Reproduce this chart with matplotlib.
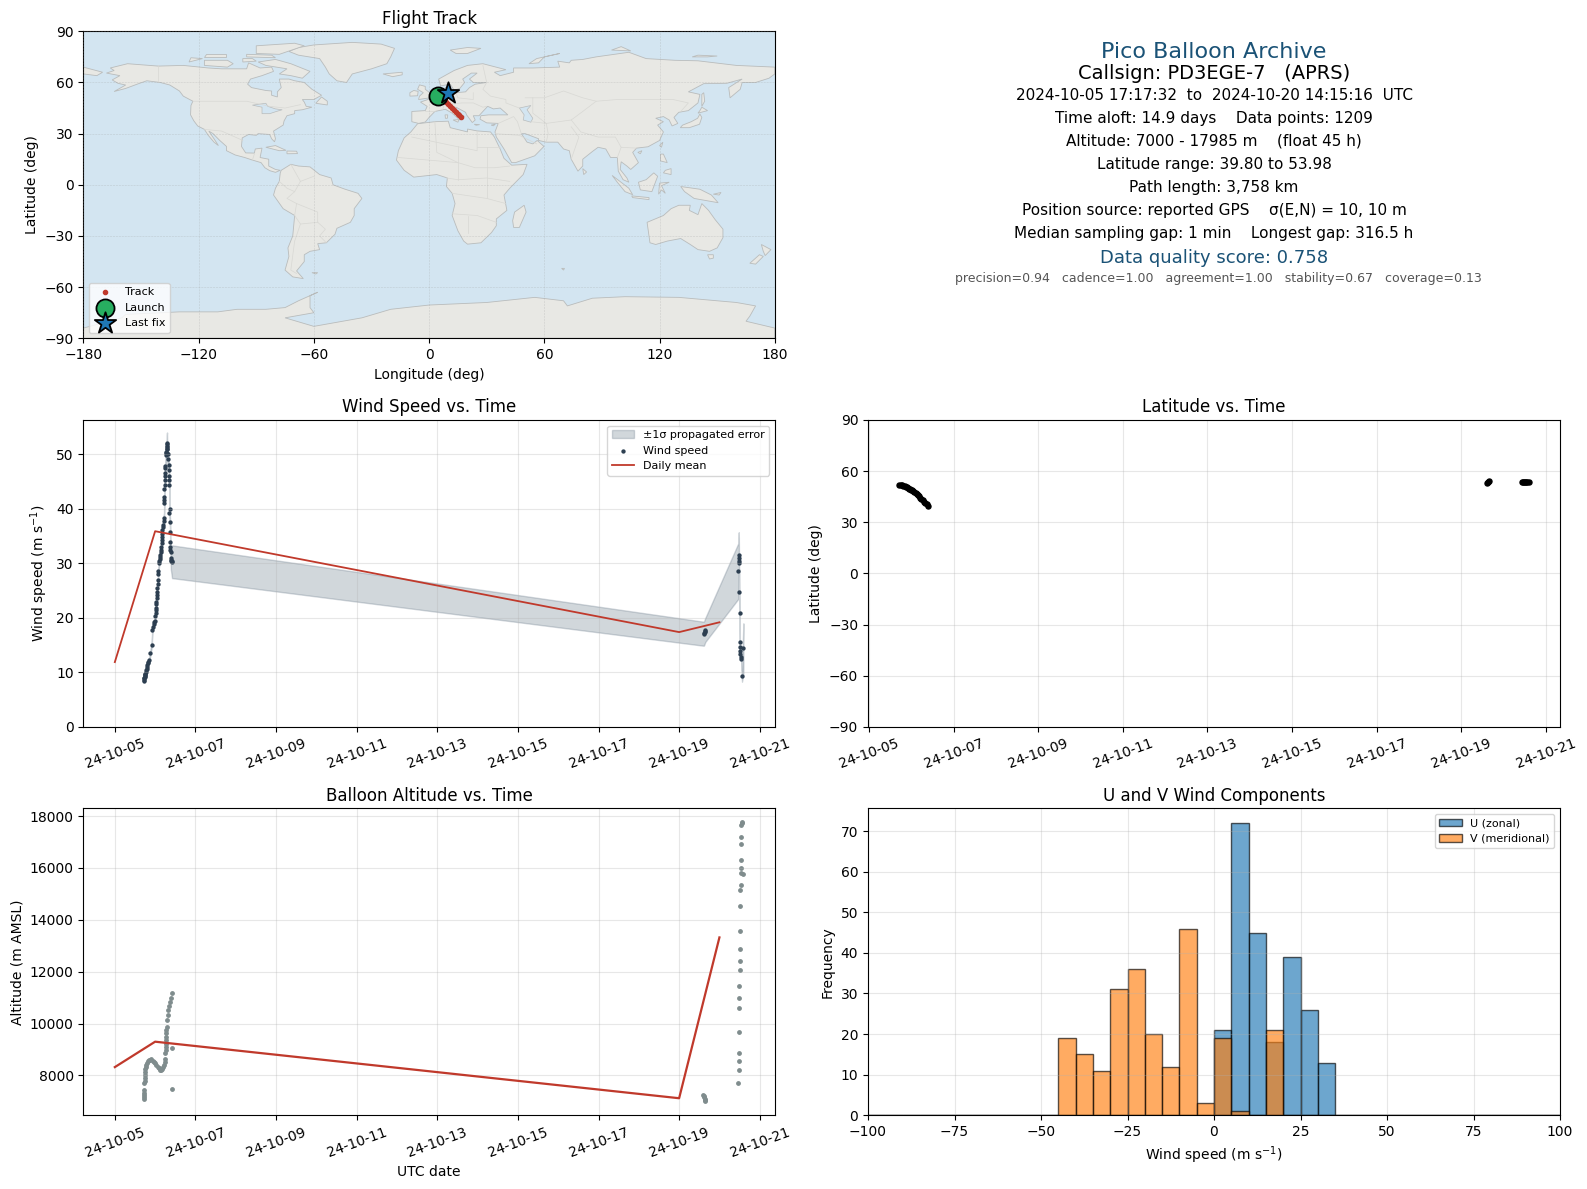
import numpy as np
import matplotlib
matplotlib.use('Agg')
import matplotlib.pyplot as plt
import matplotlib.dates as mdates
from matplotlib.patches import Polygon
from datetime import datetime, timedelta

W, H = 1587, 1189

# coarse outlines lon/lat
north_america = [(-168,65.5),(-164,67),(-166,68.5),(-157,71),(-141,69.6),(-128,70),(-115,68.5),(-108,68),(-95,68),(-94,71.5),(-88,68.5),(-82,69),(-81,66.5),(-87,64),(-93,62),(-94.5,59),(-92.5,57),(-85,55.3),(-82,55),(-82,52.5),(-79,51.5),(-79,54.5),(-77,57),(-78,62),(-73,62),(-70,61),(-65,60),(-61,56),(-56,52.5),(-60,50),(-66,50),(-65,48.5),(-64,46),(-61,45.5),(-66,44),(-70,43.5),(-70,41.7),(-74,40.5),(-75.5,37.5),(-76,35),(-81,31.5),(-80,27),(-80.5,25.2),(-82,27),(-83,29.5),(-89,30),(-90,29),(-94,29.5),(-97.3,27.5),(-97.7,22.5),(-95.5,18.7),(-91,18.6),(-90.5,21),(-87,21.5),(-88,16),(-83.5,15),(-83.5,11),(-80,9),(-77.5,8.5),(-80,7.3),(-83,8.3),(-85.5,10),(-87.5,13),(-92,14.5),(-96,16),(-101,17.5),(-105.5,20),(-105.5,22.5),(-109,26),(-112.5,30),(-114.7,31.5),(-112,27),(-109.7,23),(-112,25),(-115,29),(-117,32.5),(-120.5,34.5),(-122.5,37.5),(-124.2,41),(-124,46.5),(-123,49),(-128,52),(-130,55),(-135,58.5),(-140,60),(-147,61),(-152,59),(-158,56.5),(-164,54.7),(-158,58.5),(-162,59.5),(-165,61.5),(-161,64)]
greenland = [(-73,78.2),(-68,80.5),(-60,82),(-40,83.5),(-25,82.5),(-18,80),(-20,75),(-22,71),(-30,68),(-40,65),(-43,60),(-48,61),(-52,65),(-54,69),(-57,74),(-68,76)]
baffin = [(-80,73.5),(-72,71),(-62,66.5),(-66,62.5),(-72,64),(-78,65),(-74,68),(-85,70),(-89,72)]
victoria_isl = [(-117,70),(-105,69),(-102,71),(-105,73),(-117,73)]
ellesmere = [(-90,77),(-78,76.5),(-65,81.5),(-70,83),(-90,81.5)]
banks = [(-125,72),(-118,74),(-124,74.5)]
melville = [(-117,75),(-106,75),(-106,76.5),(-116,76.5)]
devon = [(-95,75),(-80,74.5),(-82,76),(-95,76.5)]
somerset = [(-97,72),(-90,72.5),(-92,74),(-97,74)]
newfoundland = [(-59,47.8),(-53,46.8),(-53,49),(-56,51.5)]
cuba = [(-85,22),(-80,23),(-74.5,20.2),(-78,20)]
hispaniola = [(-74,19.8),(-69,19.7),(-68.5,18.3),(-74,18.2)]
south_america = [(-77,8.5),(-72,12),(-68,11),(-62,10.5),(-57,6),(-51,4),(-50,0),(-44,-2.5),(-37,-5),(-35,-8),(-39,-14),(-39,-18),(-41,-22),(-48,-25.5),(-49,-29),(-53.5,-34),(-58,-34.5),(-57,-38),(-62,-39),(-65,-41),(-65,-45),(-69,-50.5),(-65.5,-55),(-71,-54),(-75,-50),(-73,-42),(-73.5,-37),(-71,-30),(-70,-18),(-76,-14),(-81,-6),(-80,-2),(-78,2),(-77.5,7)]
africa = [(-6,35.8),(3,37),(10,37.3),(11,33.5),(20,31),(20,32.7),(25,31.6),(32,31),(34,28),(37,21),(39,15.5),(43,11.5),(51,12),(49,6),(42,-2),(39,-6),(40.5,-15),(35,-20),(35,-24),(32.5,-28),(27,-34),(20,-34.8),(18,-33),(15,-27),(12,-18),(13.5,-11),(12,-5),(9,-1),(9.5,4),(4,6),(-4,5),(-8,4.5),(-13,8.5),(-17,14.5),(-16,20),(-13,27.5),(-9.5,31)]
eurasia = [(-9,37),(-9,43),(-2,43.5),(-1,46),(-4.5,48.5),(2,51),(4,52),(8,54),(8.5,57),(10.5,57.5),(10,54.5),(14,54),(19,54.5),(21,57),(24,59),(30,60),(23,60),(21,62),(25,65.5),(22,65.5),(17.5,62),(18.5,60),(16,56.5),(13,55.5),(11,59),(6,58),(5,62),(13,67),(20,70),(28,71),(40,67.5),(34,66),(37,64),(44,66),(44,68.5),(54,68.5),(68,69),(67,72.5),(73,71.5),(74,73),(80,73.5),(87,75),(104,77.7),(113,74),(128,73),(140,72.7),(160,70),(170,69.5),(180,69),(180,65),(177,62.5),(170,60),(163,60),(162,56),(156.7,51),(156,57),(163,62),(155,59.5),(143,59.3),(135,54.5),(141,53),(140,48),(135,43.5),(130,42.5),(127.5,39.5),(129.5,36),(126.5,34.5),(125,38),(122,40),(118,39),(122,37),(119,35),(122,31),(120,26),(114,22.3),(108,21.5),(106,19),(109,13),(105,9),(103,11),(100,13.5),(99.5,9),(103,4),(104,1.5),(101,3),(98.5,8),(98,16),(94.5,16),(92,21),(88,22),(85,19.5),(80,15),(80,11),(77.5,8),(74,15),(73,20),(70,21),(67,25),(61,25),(57,26),(57,27),(50,30),(48,30),(51,25),(54,24),(56.3,26),(59.8,22.5),(55,17),(45,13),(43,13),(39,21),(35,28),(34.3,31),(36,36),(30,36.3),(26.5,38.5),(27,40.5),(31,41),(41,41),(37,45),(33.5,44.5),(30.5,46),(28,43),(26,40.5),(23,40.5),(24,38),(22.5,36.5),(19.5,41),(19,42.5),(14,45.5),(12.3,45),(16,41.8),(18.3,40),(16,38),(12,42),(8.5,44.3),(3,43),(0,39.5),(-2,36.8),(-5.5,36)]
chukotka = [(-180,69),(-170,66),(-173,64),(-180,65)]
britain = [(-5.5,50),(1.5,51.2),(1.5,53),(-2,56),(-2,57.7),(-5,58.6),(-6,56),(-3,54),(-5,52)]
ireland = [(-10,52),(-6,52.2),(-5.7,54.8),(-8,55.3),(-10,54)]
iceland = [(-24,65),(-14,66),(-14,64.5),(-19,63.4)]
svalbard = [(11,79),(20,80.5),(27,80),(20,77),(14,77)]
novaya = [(52,71),(56,74),(68,77),(60,75),(57,71.5)]
severnaya = [(95,79),(105,78.5),(100,81)]
new_siberia = [(137,75),(145,75),(150,75.5),(140,76)]
sicily = [(12.5,38),(15.5,38.2),(15,36.7)]
sardinia = [(8.3,41),(9.7,41),(9.5,39),(8.5,39)]
crete = [(23.5,35.5),(26.3,35.3),(24.5,34.9)]
cyprus = [(32.3,35),(34.5,35.6),(33.5,34.6)]
madagascar = [(49.5,-12),(50.5,-16),(47,-25),(44,-25),(43.5,-21),(44.5,-16)]
sri_lanka = [(80,9.5),(82,7.5),(80.5,6)]
honshu = [(130.8,33.5),(135.5,33.5),(140.8,35.5),(142,39.5),(141,41.5),(139.8,39),(136.5,37),(132,35)]
hokkaido = [(140,42),(145,43.5),(142,45.5),(141,43.5)]
sakhalin = [(142,46),(143.5,49),(143,54),(142,53)]
taiwan = [(120,23),(121.7,25),(121,22)]
hainan = [(108.7,19),(110.8,20),(110,18.2)]
luzon = [(120.5,18),(122,18),(124,13),(120.5,14)]
mindanao = [(122,7),(126,6),(126,9.5),(123,8.5)]
borneo = [(109,1.5),(113,3),(117,7),(119,5),(117.5,0.5),(116,-4),(110,-3)]
sumatra = [(95.3,5.5),(104,-2),(106,-5.8),(102,-4),(98,1.5)]
java = [(105.5,-6.5),(114.5,-7.5),(114.5,-8.7),(106,-7.5)]
sulawesi = [(119.5,-5.5),(120,1),(125,1.5),(121,-0.5),(123,-5),(121,-3)]
new_guinea = [(131,-1),(141,-2.6),(147,-6),(150.5,-10.5),(143,-9),(138,-8),(133,-4)]
new_britain = [(148,-5.5),(152,-4.5),(151,-6)]
australia = [(113.5,-22),(122,-18),(126,-14),(130,-12),(136,-12),(135.5,-15),(140,-17.5),(142,-11),(145.5,-15),(149,-20.5),(153,-26),(153,-31),(150,-37),(146,-39),(140,-38),(136,-35),(131,-31.5),(124,-33),(118,-35),(115,-34),(114,-26)]
tasmania = [(145,-41),(148,-41),(148,-43),(146,-43.5)]
nz_north = [(173,-35),(178,-38),(175,-41.5),(174,-39)]
nz_south = [(172,-41),(174,-42),(170,-46.5),(167,-46)]
falkland = [(-61,-51.5),(-58,-51.5),(-59,-52.3)]
kerguelen = [(69,-49),(70.5,-49),(70,-50)]
antarctica = [(-180,-90),(-180,-84),(-160,-78),(-158,-76),(-130,-74.5),(-110,-74.5),(-100,-73),(-85,-73),(-75,-72),(-68,-68),(-58,-63),(-62,-65),(-62,-72),(-60,-75),(-75,-78),(-60,-83),(-35,-78),(-20,-73),(0,-70.5),(30,-69),(55,-66),(70,-68),(72,-71),(85,-66.5),(102,-65.6),(130,-66),(160,-69),(170,-71),(167,-77),(165,-80),(180,-84),(180,-90)]
land_shapes = [north_america, greenland, baffin, victoria_isl, ellesmere, banks, melville, devon, somerset, newfoundland, cuba,
               hispaniola, south_america, africa, eurasia, chukotka, britain, ireland, iceland, svalbard, novaya, severnaya,
               new_siberia, sicily, sardinia, crete, cyprus, madagascar, sri_lanka, honshu, hokkaido, sakhalin, taiwan, hainan,
               luzon, mindanao, borneo, sumatra, java, sulawesi, new_guinea, new_britain, australia, tasmania, nz_north, nz_south,
               falkland, kerguelen, antarctica]

caspian = [(47,45),(53,46.5),(51,44),(54,39),(53,36.7),(49,38),(49.5,41)]
great_lakes = [(-92,46.7),(-85,47.8),(-84,46),(-80,44.5),(-76.5,44),(-79.5,43),(-83,41.7),(-87,41.7),(-87,45.5)]
lake_shapes = [caspian, great_lakes]

borders = [
    [(-123,49),(-95,49),(-83,46),(-75,45),(-67,47)], [(-117,32.5),(-108,31.5),(-97,26)], [(-141,70),(-141,60)],
    [(-92,14.5),(-91,18)], [(-72,12),(-67,2),(-70,-4),(-74,-8),(-69,-11),(-70,-18)], [(-60,5),(-67,2)],
    [(-69,-11),(-58,-16),(-58,-22),(-54,-26),(-57,-30),(-53.5,-34)], [(-70,-18),(-67,-23),(-70,-33),(-72,-50),(-69,-52)],
    [(-58,-22),(-67,-23)], [(-78,2),(-74,-2),(-70,-4)], [(-9,28),(12,23),(25,20),(25,31.6)], [(25,22),(37,22)],
    [(-16,16),(15,13),(24,10),(34,10),(42,11)], [(9,4),(15,3),(30,4),(42,2)], [(12,-5),(30,-8),(40,-11)],
    [(12,-17),(25,-18),(35,-22)], [(20,-28),(20,-18)], [(3,37),(4,19),(15,13)], [(15,23),(15,3)], [(30,22),(30,-8)],
    [(28,70),(30,60),(28,56),(32,52),(40,50),(40,48),(47,45)], [(50,51),(60,51),(70,55),(80,51),(87,49),(98,50),(108,50),(117,50),(127,50),(135,48),(131,43)],
    [(87,49),(80,43),(74,38),(79,31),(88,28),(97,28),(100,22),(108,21.5)], [(61,25),(62,30),(61,36),(74,38)], [(53,37),(61,36)],
    [(48,30),(46,37),(44,40),(36,36)], [(34.5,30),(47,29),(56,24)], [(-2,43),(3,43)], [(7,44),(8,47.5),(13,47.5),(17,48),(23,48),(28,45.5),(30,46)],
    [(6,49),(8,47.5)], [(14,54),(15,51),(23,50),(23,54)], [(74,15),(78,28),(74,34)], [(98,16),(100,22)], [(54,51),(54,42),(61,36)],
]

# balloon positions on the map
track_lon = [4.8, 6.3, 7.2, 8.0, 8.8, 9.8, 10.8, 11.8, 12.8, 13.8, 14.8, 15.8, 16.8, 10.0, 10.1]
track_lat = [51.9, 51.2, 50.5, 49.7, 48.7, 47.4, 46.2, 45.1, 44.0, 42.9, 41.8, 40.8, 39.8, 53.8, 53.98]
launch_lon, launch_lat = 4.8, 51.9
last_lon, last_lat = 10.0, 53.98

# wind speed samples, days after 2024-10-05 00:00
wind_days = [0.72, 0.73, 0.74, 0.75, 0.76, 0.77, 0.78, 0.79, 0.80, 0.82, 0.85, 0.88, 0.915, 0.93, 0.95, 0.99, 1.02, 1.03,
             1.045, 1.07, 1.075, 1.095, 1.13, 1.145, 1.16, 1.18, 1.195, 1.22, 1.23, 1.232, 1.24, 1.245, 1.25, 1.28, 1.285,
             1.287, 1.29, 1.295, 1.30, 1.32, 1.345, 1.348, 1.352, 1.355, 1.37, 1.372, 1.374, 1.385, 1.39, 1.42,
             14.61, 14.62, 14.63, 14.64, 14.65,
             15.47, 15.48, 15.482, 15.484, 15.486, 15.49, 15.50, 15.505, 15.51, 15.515, 15.52, 15.53, 15.54, 15.56, 15.594]
wind_speed = [8.5, 8.9, 9.2, 9.5, 9.8, 10.1, 10.4, 10.7, 11.0, 11.7, 12.3, 13.5, 15.1, 17.8, 18.4, 19.5, 21.4, 23.0,
              24.8, 26.9, 28.0, 30.0, 31.5, 32.4, 33.7, 36.1, 37.0, 38.4, 42.1, 43.7, 45.3, 46.1, 47.4, 50.5, 50.9,
              51.3, 51.8, 52.0, 50.3, 49.1, 47.1, 45.3, 44.4, 39.2, 37.5, 35.7, 33.9, 32.1, 30.9, 30.3,
              17.1, 17.2, 17.4, 17.6, 17.8,
              28.6, 31.5, 31.0, 30.5, 30.0, 24.7, 20.9, 15.5, 14.6, 14.0, 13.4, 12.9, 12.5, 9.3, 14.4]
wind_sigma = [0.3, 0.3, 0.3, 0.3, 0.3, 0.3, 0.4, 0.4, 0.4, 0.4, 0.4, 0.5, 0.5, 0.5, 0.5, 0.5, 0.6, 0.6,
              0.6, 0.6, 0.6, 0.7, 0.7, 0.7, 0.7, 0.8, 0.8, 0.8, 1.0, 1.0, 1.2, 1.2, 1.2, 1.5, 1.5,
              1.6, 1.8, 2.0, 1.5, 1.2, 1.0, 0.8, 0.8, 0.8, 0.8, 0.8, 0.8, 1.0, 2.0, 3.0,
              2.2, 2.2, 2.2, 2.2, 2.2,
              5.1, 4.2, 3.0, 2.0, 1.0, 1.0, 0.6, 0.5, 0.5, 0.5, 0.5, 0.5, 0.5, 1.0, 4.6]
# extra dots where the first ascent is densely sampled
dense_days = [0.725, 0.735, 0.745, 0.755, 0.81, 0.835, 0.96, 0.975, 1.0, 1.01, 1.015, 1.025, 1.035, 1.04, 1.05, 1.06, 1.08,
              1.10, 1.11, 1.12, 1.14, 1.15, 1.165, 1.17, 1.175, 1.19, 1.21, 1.225, 1.227, 1.235, 1.24, 1.255, 1.27,
              1.275, 1.283, 1.292, 1.31, 1.335, 1.35, 1.36, 1.376, 1.38, 1.395, 1.40, 1.41]
dense_speed = [8.7, 9.0, 9.35, 9.65, 11.3, 12.0, 18.9, 19.2, 20.3, 20.9, 21.9, 22.5, 23.6, 24.2, 25.4, 26.2, 28.6,
               30.4, 30.8, 31.2, 32.0, 33.0, 34.2, 34.8, 35.4, 36.6, 37.8, 41.0, 41.6, 44.3, 46.6, 47.8, 49.8,
               50.2, 51.0, 51.5, 50.0, 48.0, 46.0, 40.0, 33.0, 32.5, 30.6, 30.5, 30.4]
mean_days = [0, 1, 14, 15]
wind_daily_mean = [11.9, 35.9, 17.4, 19.2]

# latitude samples
lat_days = [0.72, 0.75, 0.78, 0.81, 0.84, 0.87, 0.90, 0.93, 0.956, 0.98, 1.0, 1.025, 1.05, 1.075, 1.10, 1.125, 1.152, 1.18,
            1.21, 1.24, 1.27, 1.30, 1.33, 1.365, 1.404,
            14.61, 14.63, 14.65, 15.45, 15.47, 15.49, 15.51, 15.53, 15.55, 15.594]
latitude = [51.8, 51.7, 51.6, 51.4, 51.2, 50.9, 50.6, 50.2, 49.8, 49.5, 49.1, 48.7, 48.2, 47.7, 47.1, 46.5, 45.9, 45.2,
            44.4, 43.7, 42.9, 42.1, 41.3, 40.5, 39.8,
            53.3, 53.6, 53.98, 53.5, 53.5, 53.5, 53.5, 53.5, 53.5, 53.4]

# altitude samples
alt_days = [0.72, 0.722, 0.724, 0.726, 0.728, 0.735, 0.738, 0.742, 0.745, 0.748, 0.755, 0.763, 0.78, 0.797, 0.82, 0.846,
            0.875, 0.905, 0.935, 0.963, 0.995, 1.03, 1.06, 1.095, 1.125, 1.154, 1.175, 1.195, 1.215, 1.237, 1.25, 1.255,
            1.258, 1.26, 1.262, 1.265, 1.27, 1.275, 1.28, 1.29, 1.303, 1.315, 1.328, 1.345, 1.361, 1.385, 1.411, 1.42, 1.42,
            14.6, 14.61, 14.62, 14.63, 14.64, 14.65,
            15.45, 15.48, 15.48, 15.48, 15.48, 15.48, 15.48, 15.48, 15.504, 15.504, 15.504, 15.504, 15.504, 15.51,
            15.53, 15.54, 15.594, 15.53, 15.53, 15.53, 15.53, 15.53, 15.55, 15.555]
altitude = [7075, 7160, 7240, 7340, 7435, 7690, 7800, 7910, 8030, 8140, 8240, 8330, 8420, 8490, 8550, 8590,
            8610, 8616, 8570, 8526, 8460, 8400, 8340, 8270, 8220, 8190, 8240, 8310, 8420, 8526, 8650, 8860,
            8975, 9100, 9230, 9360, 9490, 9620, 9746, 9880, 10130, 10320, 10516, 10680, 10837, 11000, 11160, 9040, 7460,
            7250, 7200, 7150, 7100, 7050, 7000,
            7690, 8190, 8540, 8850, 9660, 10580, 10970, 11430, 12050, 12430, 12860, 13550, 14515, 15130,
            15360, 15790, 15750, 16000, 16290, 16940, 17210, 17650, 17720, 17760]
alt_daily_mean = [8320, 9300, 7120, 13320]

# histogram counts in 5 m/s bins
bin_edges = list(range(-100, 105, 5))
u_counts = [0]*20 + [21, 72, 45, 18, 39, 26, 13] + [0]*13
v_counts = [0]*11 + [19, 15, 11, 31, 36, 20, 12, 46, 3, 19, 1, 0, 21] + [0]*16

info_lines = ['2024-10-05 17:17:32  to  2024-10-20 14:15:16  UTC',
              'Time aloft: 14.9 days    Data points: 1209',
              'Altitude: 7000 - 17985 m    (float 45 h)',
              'Latitude range: 39.80 to 53.98',
              'Path length: 3,758 km',
              'Position source: reported GPS    σ(E,N) = 10, 10 m',
              'Median sampling gap: 1 min    Longest gap: 316.5 h']
score_parts = 'precision=0.94   cadence=1.00   agreement=1.00   stability=0.67   coverage=0.13'

t0 = datetime(2024, 10, 5)


def to_dates(days):
    return [t0 + timedelta(days=d) for d in days]


def add_ax(l, t, r, b):
    return fig.add_axes([l / W, 1 - b / H, (r - l) / W, (b - t) / H])


def date_axis(ax):
    ax.xaxis.set_major_locator(mdates.DayLocator(bymonthday=range(1, 32, 2)))
    ax.xaxis.set_major_formatter(mdates.DateFormatter('%y-%m-%d'))
    ax.tick_params(axis='x', rotation=20)
    ax.grid(True, alpha=0.3)


fig = plt.figure(figsize=(W / 100, H / 100), dpi=100)

NAVY = '#2c3e50'
RED = '#c0392b'
L1, R1, L2, R2 = 83.4, 774.8, 868, 1560

# map
ax_map = add_ax(L1, 31.3, R1, 338.3)
ax_map.set_facecolor('#d3e5f1')
for shape in land_shapes:
    ax_map.add_patch(Polygon(shape, closed=True, facecolor='#e8e8e4', edgecolor='#b9bcbc', linewidth=0.6, zorder=1))
for shape in lake_shapes:
    ax_map.add_patch(Polygon(shape, closed=True, facecolor='#d3e5f1', edgecolor='#b9bcbc', linewidth=0.5, zorder=1.1))
for line in borders:
    ax_map.plot([p[0] for p in line], [p[1] for p in line], color='#d8d8d4', linewidth=0.5, zorder=1.2)
ax_map.grid(True, linestyle='--', linewidth=0.4, color='#999999', alpha=0.35, zorder=1.3)
ax_map.set_axisbelow(False)
ax_map.scatter(track_lon, track_lat, s=9, color=RED, zorder=3, label='Track')
ax_map.scatter([launch_lon], [launch_lat], s=170, color='#27ae60', edgecolor='black', linewidth=1.3, zorder=4, label='Launch')
ax_map.scatter([last_lon], [last_lat], s=260, marker='*', color='#1f77b4', edgecolor='black', linewidth=1.3, zorder=5, label='Last fix')
ax_map.set_xlim(-180, 180)
ax_map.set_ylim(-90, 90)
ax_map.set_xticks(range(-180, 181, 60))
ax_map.set_yticks(range(-90, 91, 30))
ax_map.set_xlabel('Longitude (deg)')
ax_map.set_ylabel('Latitude (deg)')
ax_map.set_title('Flight Track', pad=5)
ax_map.legend(loc='lower left', fontsize=8)

# text block
cx = (L2 + R2) / 2 / W


def put(y_px, txt, dx=0, **kw):
    fig.text(cx + dx / W, 1 - y_px / H, txt, ha='center', va='center', **kw)


put(51.5, 'Pico Balloon Archive', fontsize=16, color='#1a5276')
put(73.5, 'Callsign: PD3EGE-7   (APRS)', fontsize=14, color='black')
for i, line in enumerate(info_lines):
    put(95.3 + 23 * i, line, fontsize=11, color='black')
put(257.7, 'Data quality score: 0.758', fontsize=13, color='#1a5276')
put(278.5, score_parts, dx=4, fontsize=9, color='#555555')

# wind speed
ax_w = add_ax(L1, 420, R1, 727)
wd = to_dates(wind_days)
ws = np.array(wind_speed)
sg = np.array(wind_sigma)
ax_w.fill_between(wd, ws - sg, ws + sg, color='#5d7080', alpha=0.28, label='±1σ propagated error')
ax_w.scatter(wd + to_dates(dense_days), wind_speed + dense_speed, s=4.5, color=NAVY, label='Wind speed')
ax_w.plot(to_dates(mean_days), wind_daily_mean, color=RED, linewidth=1.3, label='Daily mean')
ax_w.set_ylim(bottom=0)
ax_w.set_ylabel('Wind speed (m s$^{-1}$)')
ax_w.set_title('Wind Speed vs. Time')
date_axis(ax_w)
ax_w.legend(loc='upper right', fontsize=8)

# latitude
ax_l = add_ax(L2, 420, R2, 727)
ax_l.scatter(to_dates(lat_days), latitude, s=13, color='black')
ax_l.set_ylim(-90, 90)
ax_l.set_yticks(range(-90, 91, 30))
ax_l.set_ylabel('Latitude (deg)')
ax_l.set_title('Latitude vs. Time')
date_axis(ax_l)

# altitude
ax_a = add_ax(L1, 808.3, R1, 1115.3)
ax_a.scatter(to_dates(alt_days), altitude, s=6, color='#7f8c8d')
ax_a.plot(to_dates(mean_days), alt_daily_mean, color=RED, linewidth=1.6)
ax_a.set_ylabel('Altitude (m AMSL)')
ax_a.set_xlabel('UTC date')
ax_a.set_title('Balloon Altitude vs. Time', pad=5)
date_axis(ax_a)

# u/v histogram
ax_h = add_ax(L2, 808.3, R2, 1115.3)
ax_h.bar(bin_edges[:-1], u_counts, width=5, align='edge', color='#1f77b4', alpha=0.65, edgecolor='black', label='U (zonal)')
ax_h.bar(bin_edges[:-1], v_counts, width=5, align='edge', color='#ff7f0e', alpha=0.65, edgecolor='black', label='V (meridional)')
ax_h.set_xlim(-100, 100)
ax_h.set_xlabel('Wind speed (m s$^{-1}$)')
ax_h.set_ylabel('Frequency')
ax_h.set_title('U and V Wind Components', pad=5)
ax_h.grid(True, alpha=0.3)
ax_h.legend(loc='upper right', fontsize=8)

fig.savefig('out.png', dpi=100)
